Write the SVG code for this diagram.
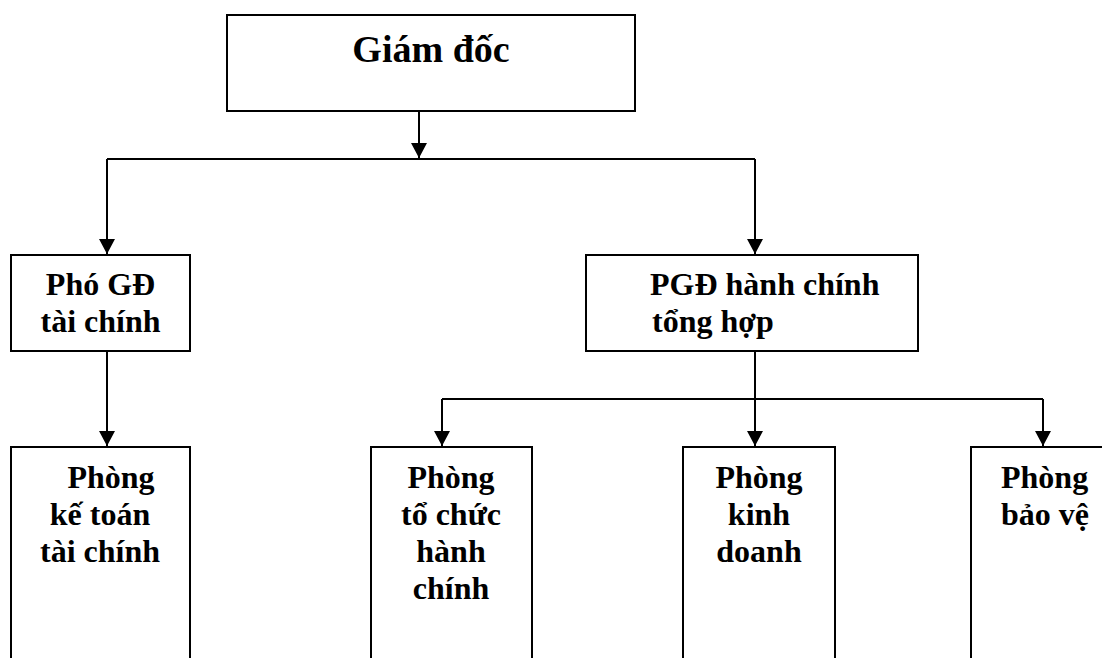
<svg xmlns="http://www.w3.org/2000/svg" width="1102" height="658" viewBox="0 0 1102 658">
  <style>
    .box { fill: #ffffff; stroke: #000000; stroke-width: 2; }
    .lbl { font-family: "Liberation Serif", "Times New Roman", serif; font-weight: bold; font-size: 32px; fill: #000000; }
    .title { font-size: 38px; }
    .mid { text-anchor: middle; }
    .wire { fill: none; stroke: #000000; stroke-width: 2; }
  </style>
  <defs>
    <!-- solid downward arrowhead; tip sits on the end of the line -->
    <marker id="down" viewBox="0 0 16 15" refX="8" refY="15" markerWidth="16" markerHeight="15" markerUnits="userSpaceOnUse" orient="0">
      <path d="M0,0 L16,0 L8,15 Z" fill="#000000"/>
    </marker>
  </defs>

  <rect width="1102" height="658" fill="#ffffff"/>

  <!-- connectors -->
  <g id="connectors">
    <path class="wire" d="M107,159 H755"/>
    <path class="wire" d="M442,399 H1043"/>
    <path class="wire" d="M419,111 V158" marker-end="url(#down)"/>
    <path class="wire" d="M107,159 V254" marker-end="url(#down)"/>
    <path class="wire" d="M755,159 V254" marker-end="url(#down)"/>
    <path class="wire" d="M107,351 V446" marker-end="url(#down)"/>
    <path class="wire" d="M755,351 V446" marker-end="url(#down)"/>
    <path class="wire" d="M442,399 V446" marker-end="url(#down)"/>
    <path class="wire" d="M1043,399 V446" marker-end="url(#down)"/>
  </g>

  <!-- director -->
  <g id="giam-doc">
    <rect class="box" x="227" y="15" width="408" height="96"/>
    <text class="lbl title mid" x="431" y="62">Giám đốc</text>
  </g>

  <!-- deputy, finance -->
  <g id="pho-gd-tai-chinh">
    <rect class="box" x="11" y="255" width="179" height="96"/>
    <text class="lbl mid" x="100.5" y="295">Phó GĐ</text>
    <text class="lbl mid" x="100.5" y="332">tài chính</text>
  </g>

  <!-- deputy, administration -->
  <g id="pgd-hanh-chinh">
    <rect class="box" x="586" y="255" width="332" height="96"/>
    <text class="lbl" x="650" y="295">PGĐ hành chính</text>
    <text class="lbl" x="652" y="332">tổng hợp</text>
  </g>

  <!-- departments -->
  <g id="phong-ke-toan">
    <rect class="box" x="11" y="447" width="179" height="240"/>
    <text class="lbl mid" x="111" y="488">Phòng</text>
    <text class="lbl mid" x="100" y="525">kế toán</text>
    <text class="lbl mid" x="100" y="562">tài chính</text>
  </g>

  <g id="phong-to-chuc">
    <rect class="box" x="371" y="447" width="161" height="240"/>
    <text class="lbl mid" x="451" y="488">Phòng</text>
    <text class="lbl mid" x="451" y="525">tổ chức</text>
    <text class="lbl mid" x="451" y="562">hành</text>
    <text class="lbl mid" x="451" y="599">chính</text>
  </g>

  <g id="phong-kinh-doanh">
    <rect class="box" x="683" y="447" width="152" height="240"/>
    <text class="lbl mid" x="759" y="488">Phòng</text>
    <text class="lbl mid" x="759" y="525">kinh</text>
    <text class="lbl mid" x="759" y="562">doanh</text>
  </g>

  <g id="phong-bao-ve">
    <rect class="box" x="971" y="447" width="160" height="240"/>
    <text class="lbl" x="1001" y="488">Phòng</text>
    <text class="lbl" x="1001" y="525">bảo vệ</text>
  </g>
</svg>
